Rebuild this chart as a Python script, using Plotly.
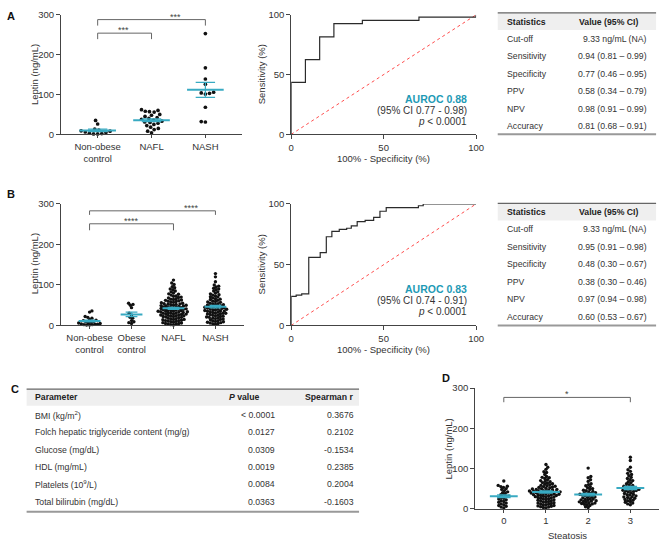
import numpy as np
import plotly.graph_objects as go

# ---------------- data ----------------
a_labels = ["Non-obese<br>control", "NAFL", "NASH"]
a_nonobese = [35, 26, 13, 11, 9, 8, 6, 5, 3, 2, 1, 1]
a_nafl = [62, 60, 58, 57, 56, 50, 48, 45, 42, 40, 38, 36, 33, 31, 30, 28, 25, 22, 18, 15, 12, 8, 4]
a_nash = [253, 167, 139, 126, 106, 104, 103, 101, 68, 32, 31]

b_labels = ["Non-obese<br>control", "Obese<br>control", "NAFL", "NASH"]
b_nonobese = [36, 33, 22, 20, 18, 15, 13, 12, 10, 9, 8, 7, 6, 5, 4, 3, 3, 2, 2, 1, 1]
b_obese = [55, 52, 50, 44, 30, 26, 20, 18, 12, 9, 7, 5]
b_nafl = [112, 105, 101, 96, 93, 90, 88, 85, 83, 80, 78, 77, 75, 73, 72, 70, 69, 68, 66, 65,
          64, 63, 62, 61, 60, 59, 58, 57, 56, 55, 54, 53, 53, 52, 51, 50, 50, 49, 49, 48,
          47, 46, 46, 45, 44, 44, 43, 42, 42, 41, 40, 40, 39, 39, 38, 37, 37, 36, 35, 35,
          34, 34, 33, 32, 32, 31, 30, 30, 29, 28, 28, 27, 26, 26, 25, 24, 24, 23, 22, 22,
          21, 20, 19, 18, 17, 16, 15, 15, 14, 13, 12, 12, 11, 10, 9, 8, 7, 6, 5, 5, 4, 3, 2, 1]
b_nash = [128, 120, 108, 100, 97, 95, 92, 90, 88, 85, 83, 80, 78, 76, 75, 73, 71, 70, 68, 66,
          65, 64, 62, 60, 59, 58, 57, 55, 54, 53, 52, 51, 50, 49, 48, 47, 46, 45, 45, 44,
          43, 42, 41, 40, 40, 39, 38, 37, 36, 36, 35, 34, 33, 32, 31, 30, 30, 29, 28, 27,
          26, 25, 24, 23, 22, 21, 20, 19, 18, 17, 16, 15, 14, 12, 11, 10, 9, 8, 7, 6, 5, 4, 3]

d_labels = ["0", "1", "2", "3"]
d_s0 = [69, 58, 56, 55, 53, 50, 48, 45, 42, 40, 38, 35, 33, 31, 30, 28, 26, 24, 22, 20,
        18, 16, 14, 12, 10, 8, 6, 4, 2]
d_s1 = [110, 103, 98, 92, 90, 85, 80, 78, 77, 75, 72, 70, 68, 67, 65, 64, 62, 61, 60, 58,
        57, 56, 55, 54, 53, 52, 51, 50, 49, 48, 48, 47, 46, 45, 45, 44, 44, 43, 42, 42,
        41, 40, 40, 39, 39, 38, 37, 37, 36, 35, 35, 34, 33, 33, 32, 31, 30, 30, 29, 28,
        27, 26, 25, 24, 23, 22, 21, 20, 19, 18, 17, 16, 15, 14, 13, 12, 11, 10, 9, 8, 7, 6, 5, 4, 3, 2]
d_s2 = [101, 80, 77, 72, 68, 62, 60, 57, 55, 52, 50, 48, 46, 45, 43, 42, 40, 39, 38, 37,
        36, 35, 34, 33, 32, 30, 29, 28, 27, 25, 24, 23, 22, 21, 20, 19, 18, 17, 16, 15,
        14, 13, 12, 11, 10, 8, 5, 3]
d_s3 = [128, 120, 103, 97, 93, 88, 85, 82, 78, 75, 72, 70, 67, 65, 62, 60, 58, 56, 55, 54,
        52, 50, 49, 48, 47, 46, 45, 44, 43, 42, 40, 38, 36, 35, 34, 32, 30, 29, 28, 26,
        25, 23, 21, 20, 18, 16, 14, 12, 10]

roc_a_fpr = [0, 0, 7.7, 15.4, 23.1, 38.5, 69.1, 100]
roc_a_tpr = [0, 43.5, 62.5, 81.5, 92.7, 95.4, 98.1, 100]
roc_b_fpr = [0, 0, 2.7, 5.7, 9.5, 15.7, 19, 22, 26, 30, 32.5, 35.7, 40, 44.6, 48, 51.4, 68.8, 71.4, 100]
roc_b_tpr = [0, 24, 25, 26, 56, 60, 73, 77.5, 79, 80, 82, 85.5, 86.5, 89, 94, 97, 98.5, 100, 100]
auroc_a = ["AUROC 0.88", "(95% CI 0.77 - 0.98)", "<i>p</i> &lt; 0.0001"]
auroc_b = ["AUROC 0.83", "(95% CI 0.74 - 0.91)", "<i>p</i> &lt; 0.0001"]

stat_header = ["Statistics", "Value (95% CI)"]
stat_names = ["Cut-off", "Sensitivity", "Specificity", "PPV", "NPV", "Accuracy"]
stat_a = ["9.33 ng/mL (NA)", "0.94 (0.81 – 0.99)", "0.77 (0.46 – 0.95)", "0.58 (0.34 – 0.79)",
          "0.98 (0.91 – 0.99)", "0.81 (0.68 – 0.91)"]
stat_b = ["9.33 ng/mL (NA)", "0.95 (0.91 – 0.98)", "0.48 (0.30 – 0.67)", "0.38 (0.30 – 0.46)",
          "0.97 (0.94 – 0.98)", "0.60 (0.53 – 0.67)"]

c_header = ["Parameter", "<i>P</i> value", "Spearman r"]
c_params = ["BMI (kg/m<sup>2</sup>)", "Folch hepatic triglyceride content (mg/g)", "Glucose (mg/dL)",
            "HDL (mg/mL)", "Platelets (10<sup>9</sup>/L)", "Total bilirubin (mg/dL)"]
c_pvals = ["&lt; 0.0001", "0.0127", "0.0309", "0.0019", "0.0084", "0.0363"]
c_r = ["0.3676", "0.2102", "-0.1534", "0.2385", "0.2004", "-0.1603"]

# ---------------- style ----------------
W, H = 669, 548
FONT = "Liberation Sans, Arial, sans-serif"
TEAL = "#38aac2"
TEAL_TXT = "#1e9ab5"
AX = "#444444"
TXT = "#333333"


def px(x):
    return min(max(x / W, 0), 1)


def py(y):
    return min(max(1 - y / H, 0), 1)


fig = go.Figure()


def swarm(vals, ppx, ppy, d=3.3, step=0.3):
    vals = np.asarray(vals, float)
    order = np.argsort(vals, kind="stable")
    placed = []
    off = np.zeros(len(vals))
    for n, i in enumerate(order):
        y = vals[i] * ppy
        k = 0
        found = None
        while found is None:
            if k == 0:
                cands = [0.0]
            else:
                cands = [k * step, -k * step] if n % 2 == 0 else [-k * step, k * step]
            for c in cands:
                ok = True
                for (xx, yy) in placed:
                    if (c - xx) ** 2 + (y - yy) ** 2 < d * d:
                        ok = False
                        break
                if ok:
                    found = c
                    break
            k += 1
        placed.append((found, y))
        off[i] = found / ppx
    return off


def add_dot_panel(groups, xa, ya, ppx, ppy, mean_half, cap_half, d, msize):
    xs, ys = [], []
    for gi, v in enumerate(groups):
        off = swarm(v, ppx, ppy, d=d)
        xs += list(gi + off)
        ys += list(v)
    fig.add_trace(go.Scatter(x=xs, y=ys, mode="markers", xaxis=xa, yaxis=ya,
                             marker=dict(size=msize, color="#111111", line=dict(width=0)),
                             cliponaxis=False, showlegend=False, hoverinfo="skip"))
    lx, ly, sx, sy = [], [], [], []
    for gi, v in enumerate(groups):
        v = np.asarray(v, float)
        m = v.mean()
        se = v.std(ddof=1) / np.sqrt(len(v))
        lx += [gi - mean_half, gi + mean_half, None]
        ly += [m, m, None]
        sx += [gi, gi, None, gi - cap_half, gi + cap_half, None, gi - cap_half, gi + cap_half, None]
        sy += [m - se, m + se, None, m + se, m + se, None, m - se, m - se, None]
    fig.add_trace(go.Scatter(x=sx, y=sy, mode="lines", xaxis=xa, yaxis=ya,
                             line=dict(color=TEAL, width=1.2), cliponaxis=False,
                             showlegend=False, hoverinfo="skip"))
    fig.add_trace(go.Scatter(x=lx, y=ly, mode="lines", xaxis=xa, yaxis=ya,
                             line=dict(color=TEAL, width=2), cliponaxis=False,
                             showlegend=False, hoverinfo="skip"))


def add_bracket(xa, ya, x0, x1, ylev, ydrop, stars, star_x):
    fig.add_trace(go.Scatter(x=[x0, x0, x1, x1], y=[ydrop, ylev, ylev, ydrop], mode="lines",
                             xaxis=xa, yaxis=ya, line=dict(color="#666666", width=1),
                             cliponaxis=False, showlegend=False, hoverinfo="skip"))
    fig.add_annotation(x=star_x, y=ylev, xref=xa, yref=ya, text=stars, showarrow=False,
                       yanchor="bottom", yshift=-4, font=dict(size=9, color="#444444", family=FONT))


def add_roc(fpr, tpr, xa, ya):
    fig.add_trace(go.Scatter(x=[0, 100], y=[0, 100], mode="lines", xaxis=xa, yaxis=ya,
                             line=dict(color="#ff4d4d", width=1, dash="dot"), cliponaxis=False,
                             showlegend=False, hoverinfo="skip"))
    fig.add_trace(go.Scatter(x=fpr, y=tpr, mode="lines", line_shape="hv", xaxis=xa, yaxis=ya,
                             line=dict(color="#2b2b2b", width=1.2), cliponaxis=False,
                             showlegend=False, hoverinfo="skip"))


# panels
add_dot_panel([a_nonobese, a_nafl, a_nash], "x", "y", 54.8, 122 / 300, 0.34, 0.18, 4.2, 3.7)
add_dot_panel([b_nonobese, b_obese, b_nafl, b_nash], "x3", "y3", 42.7, 124 / 300, 0.26, 0.14, 2.7, 3.4)
add_dot_panel([d_s0, d_s1, d_s2, d_s3], "x5", "y5", 42.9, 123 / 300, 0.33, 0.16, 2.7, 3.4)
add_roc(roc_a_fpr, roc_a_tpr, "x2", "y2")
add_roc(roc_b_fpr, roc_b_tpr, "x4", "y4")

add_bracket("x", "y", 0, 1, 254, 239, "***", 0.48)
add_bracket("x", "y", 0, 2, 288, 273, "***", 1.45)
add_bracket("x3", "y3", 0, 2, 251, 235, "****", 0.99)
add_bracket("x3", "y3", 0, 3, 283, 273, "****", 2.44)
add_bracket("x5", "y5", 0, 3, 277, 265, "*", 1.5)


def common_axis(**kw):
    d = dict(showline=True, linecolor=AX, linewidth=1, showgrid=False, zeroline=False,
             ticks="outside", ticklen=4, tickcolor=AX, tickwidth=1,
             tickfont=dict(size=9.5, color=TXT, family=FONT), fixedrange=True)
    d.update(kw)
    return d


lay = {}
lay["xaxis"] = common_axis(domain=[px(59), px(243)], range=[-0.68, 2.68], anchor="y",
                           tickvals=[0, 1, 2], ticktext=a_labels, ticklen=3)
lay["yaxis"] = common_axis(domain=[py(131), py(9)], range=[0, 300], anchor="x", tickvals=[0, 100, 200, 300])
lay["xaxis2"] = common_axis(domain=[px(293), px(481)], range=[0, 100], anchor="y2", tickvals=[0, 50, 100])
lay["yaxis2"] = common_axis(domain=[py(131), py(9)], range=[0, 100], anchor="x2", tickvals=[0, 50, 100])
lay["xaxis3"] = common_axis(domain=[px(59), px(245)], range=[-0.68, 3.68], anchor="y3",
                            tickvals=[0, 1, 2, 3], ticktext=b_labels, ticklen=3)
lay["yaxis3"] = common_axis(domain=[py(326), py(202)], range=[0, 300], anchor="x3", tickvals=[0, 100, 200, 300])
lay["xaxis4"] = common_axis(domain=[px(293), px(481)], range=[0, 100], anchor="y4", tickvals=[0, 50, 100])
lay["yaxis4"] = common_axis(domain=[py(326), py(202)], range=[0, 100], anchor="x4", tickvals=[0, 50, 100])
lay["xaxis5"] = common_axis(domain=[px(480), px(667)], range=[-0.68, 3.68], anchor="y5",
                            tickvals=[0, 1, 2, 3], ticktext=d_labels, ticklen=3)
lay["yaxis5"] = common_axis(domain=[py(513), py(390)], range=[0, 300], anchor="x5", tickvals=[0, 100, 200, 300])


def txt(x, y, s, size=9.5, xanchor="center", angle=0, color=TXT, bold=False):
    if bold:
        s = "<b>" + s + "</b>"
    fig.add_annotation(x=px(x), y=py(y), xref="paper", yref="paper", text=s, showarrow=False,
                       xanchor=xanchor, yanchor="middle", textangle=angle,
                       font=dict(size=size, color=color, family=FONT))


# axis titles
txt(32, 70, "Leptin (ng/mL)", angle=-90)
txt(32, 263, "Leptin (ng/mL)", angle=-90)
txt(453, 452, "Leptin (ng/mL)", angle=-90)
txt(263, 70, "Sensitivity (%)", angle=-90)
txt(263, 264, "Sensitivity (%)", angle=-90)
txt(387, 156, "100% - Specificity (%)")
txt(387, 351, "100% - Specificity (%)")
txt(574, 540, "Steatosis")

# panel letters
txt(8, 10, "A", size=11, bold=True, color="#111111")
txt(8, 192, "B", size=11, bold=True, color="#111111")
txt(12, 391, "C", size=11, bold=True, color="#111111")
txt(450, 380, "D", size=11, bold=True, color="#111111")

# AUROC text
for lines, y0 in [(auroc_a, 95), (auroc_b, 289)]:
    txt(474, y0, lines[0], size=10.5, xanchor="right", color=TEAL_TXT, bold=True)
    txt(474, y0 + 11.5, lines[1], size=10, xanchor="right")
    txt(474, y0 + 23, lines[2], size=10, xanchor="right")

shapes = []


def hline(x0, x1, y, color, width):
    shapes.append(dict(type="line", xref="paper", yref="paper", x0=px(x0), x1=px(x1),
                       y0=py(y), y1=py(y), line=dict(color=color, width=width)))


def rect(x0, x1, y0, y1, fill):
    shapes.append(dict(type="rect", xref="paper", yref="paper", x0=px(x0), x1=px(x1),
                       y0=py(y1), y1=py(y0), fillcolor=fill, line=dict(width=0), layer="below"))


# stats tables
for vals, ytop, ybot in [(stat_a, 7, 131), (stat_b, 201.5, 326)]:
    rect(503, 664, ytop, ytop + 17.5, "#efefef")
    hline(503, 664, ytop, "#666666", 1.2)
    hline(503, 664, ybot, "#999999", 2)
    txt(510, ytop + 9, stat_header[0], size=8.7, xanchor="left", bold=True, color="#222222")
    txt(584, ytop + 9, stat_header[1], size=8.7, xanchor="left", bold=True, color="#222222")
    for i, (nm, v) in enumerate(zip(stat_names, vals)):
        yy = ytop + 26.5 + i * 17.85
        txt(510, yy, nm, size=8.7, xanchor="left")
        txt(657, yy, v, size=8.7, xanchor="right")

# table C
rect(24, 362, 391, 408, "#efefef")
hline(24, 362, 391, "#666666", 1.2)
hline(24, 362, 516, "#999999", 2)
txt(31, 399.5, c_header[0], size=8.7, xanchor="left", bold=True, color="#222222")
txt(263, 399.5, c_header[1], size=8.7, xanchor="right", bold=True, color="#222222")
txt(358, 399.5, c_header[2], size=8.7, xanchor="right", bold=True, color="#222222")
for i, (p, pv, r) in enumerate(zip(c_params, c_pvals, c_r)):
    yy = 417.3 + i * 17.75
    txt(31, yy, p, size=8.7, xanchor="left")
    txt(279, yy, pv, size=8.7, xanchor="right")
    txt(359, yy, r, size=8.7, xanchor="right")

fig.update_layout(width=W, height=H, margin=dict(l=0, r=0, t=0, b=0), autosize=False,
                  paper_bgcolor="white", plot_bgcolor="white", showlegend=False,
                  font=dict(family=FONT, color=TXT), shapes=shapes, hovermode=False, **lay)

pin_page = (
    "document.documentElement.style.overflow='hidden';"
    "document.body.style.margin='0px';document.body.style.overflow='hidden';"
    "var gd=document.getElementsByClassName('plotly-graph-div')[0];"
    "gd.style.position='fixed';gd.style.left='0px';gd.style.top='0px';"
)
fig.write_html("out.html", config={"displayModeBar": False, "staticPlot": True},
               post_script=pin_page)
